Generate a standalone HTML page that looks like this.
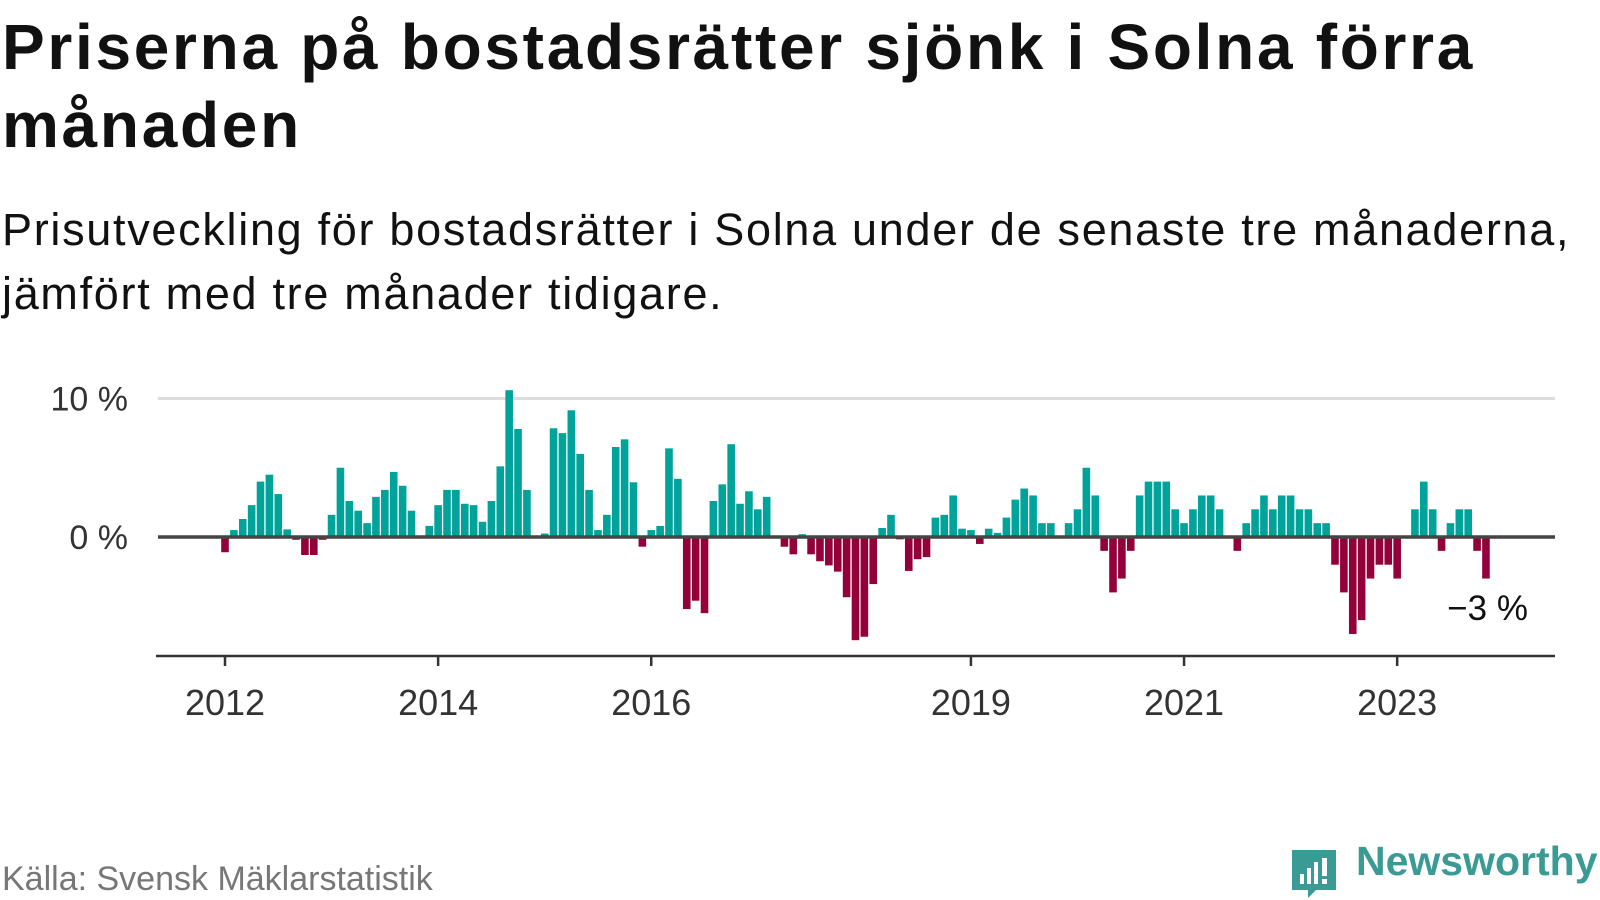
<!DOCTYPE html>
<html><head><meta charset="utf-8"><style>
body{margin:0;width:1600px;height:900px;background:#fff;overflow:hidden;font-family:"Liberation Sans",sans-serif}
.t{position:absolute;left:2px;margin:0;color:#111;white-space:nowrap}
</style></head><body>
<h1 class="t" style="top:8px;font-size:64px;line-height:78px;font-weight:bold;letter-spacing:2.7px">Priserna på bostadsrätter sjönk i Solna förra<br>månaden</h1>
<div class="t" style="top:198px;font-size:45px;line-height:64px;letter-spacing:1.7px">Prisutveckling för bostadsrätter i Solna under de senaste tre månaderna,<br>jämfört med tre månader tidigare.</div>
<svg id="c" width="1600" height="900" style="position:absolute;left:0;top:0"></svg>
<div style="position:absolute;left:2px;top:860px;font-size:34px;color:#777">Källa: Svensk Mäklarstatistik</div>
<div style="position:absolute;left:1290px;top:850px;width:310px;height:50px">
<svg width="50" height="50" style="position:absolute;left:0;top:0"><path d="M2 0H46V40H26L18 48V40H2Z" fill="#3a9b94"/><rect x="10" y="24" width="4" height="10" fill="#fff"/><rect x="17" y="18" width="4" height="16" fill="#fff"/><rect x="24" y="12" width="4" height="22" fill="#fff"/><rect x="32" y="8" width="5" height="18" fill="#fff"/><rect x="32" y="29" width="5" height="5" fill="#fff"/></svg>
<span style="position:absolute;left:66px;top:-12px;font-size:41px;font-weight:bold;color:#3a9b94">Newsworthy</span></div>
<script>
const values=[-1.1,0.5,1.3,2.3,4.0,4.5,3.1,0.55,-0.2,-1.3,-1.3,-0.2,
1.6,5.0,2.6,1.9,1.0,2.9,3.4,4.7,3.7,1.9,0,0.8,
2.3,3.4,3.4,2.4,2.3,1.1,2.6,5.1,10.6,7.8,3.4,0,
0.25,7.85,7.5,9.15,6.0,3.4,0.5,1.6,6.5,7.05,3.95,-0.7,
0.5,0.8,6.4,4.2,-5.2,-4.6,-5.5,2.6,3.8,6.7,2.4,3.3,
2.0,2.9,0,-0.7,-1.25,0.2,-1.25,-1.75,-2.05,-2.5,-4.35,-7.45,
-7.2,-3.4,0.65,1.6,-0.17,-2.45,-1.6,-1.45,1.4,1.6,3.0,0.6,
0.5,-0.5,0.6,0.3,1.4,2.7,3.5,3.0,1.0,1.0,0,1.0,
2,5,3,-1,-4,-3,-1,3,4,4,4,2,
1,2,3,3,2,0,-1,1,2,3,2,3,
3,2,2,1,1,-2,-4,-7,-6,-3,-2,-2,
-3,0,2,4,2,-1,1,2,2,-1,-3];
const yTicks=[0,10];
const yTickLabels=["0 %","10 %"];
const xYears=[2012,2014,2016,2019,2021,2023];
const lastLabel="−3 %";
const NS="http://www.w3.org/2000/svg",svg=document.getElementById('c');
const x0=225,mw=8.88,y0=537,py=13.85;
const X=i=>x0+mw*i, Y=v=>y0-v*py, XY=yr=>x0+(yr-2012)*12*mw;
function el(t,a,txt){const e=document.createElementNS(NS,t);for(const k in a)e.setAttribute(k,a[k]);if(txt!=null)e.textContent=txt;svg.appendChild(e);return e;}
yTicks.forEach((v,k)=>{
 if(v!==0){const g=el('line',{x1:158,x2:1555,y1:Y(v),y2:Y(v),stroke:'#ddd','stroke-width':3});
 
 }
 const t=el('text',{x:128,y:Y(v)+12,'text-anchor':'end','font-size':34,fill:'#333'},yTickLabels[k]);
 
 
});
values.forEach((v,i)=>{
 if(v===0)return;
 const r=el('rect',{x:X(i)-3.8,y:v>0?Y(v):y0,width:7.6,height:Math.abs(v)*py,fill:v>0?'#00a39a':'#93003a'});
 
 
});
const z=el('line',{x1:158,x2:1555,y1:y0,y2:y0,stroke:'#444','stroke-width':3.5});


const ax=el('line',{x1:156,x2:1555,y1:656,y2:656,stroke:'#333','stroke-width':2.5});


xYears.forEach(yr=>{
 const tk=el('line',{x1:XY(yr),x2:XY(yr),y1:656,y2:666,stroke:'#333','stroke-width':2.5});
 
 
 const t=el('text',{x:XY(yr),y:715,'text-anchor':'middle','font-size':36,fill:'#333'},yr);
 
 
});
const ll=el('text',{x:X(values.length-1)+42,y:620,'text-anchor':'end','font-size':35,fill:'#111'},lastLabel);


</script>
</body></html>
